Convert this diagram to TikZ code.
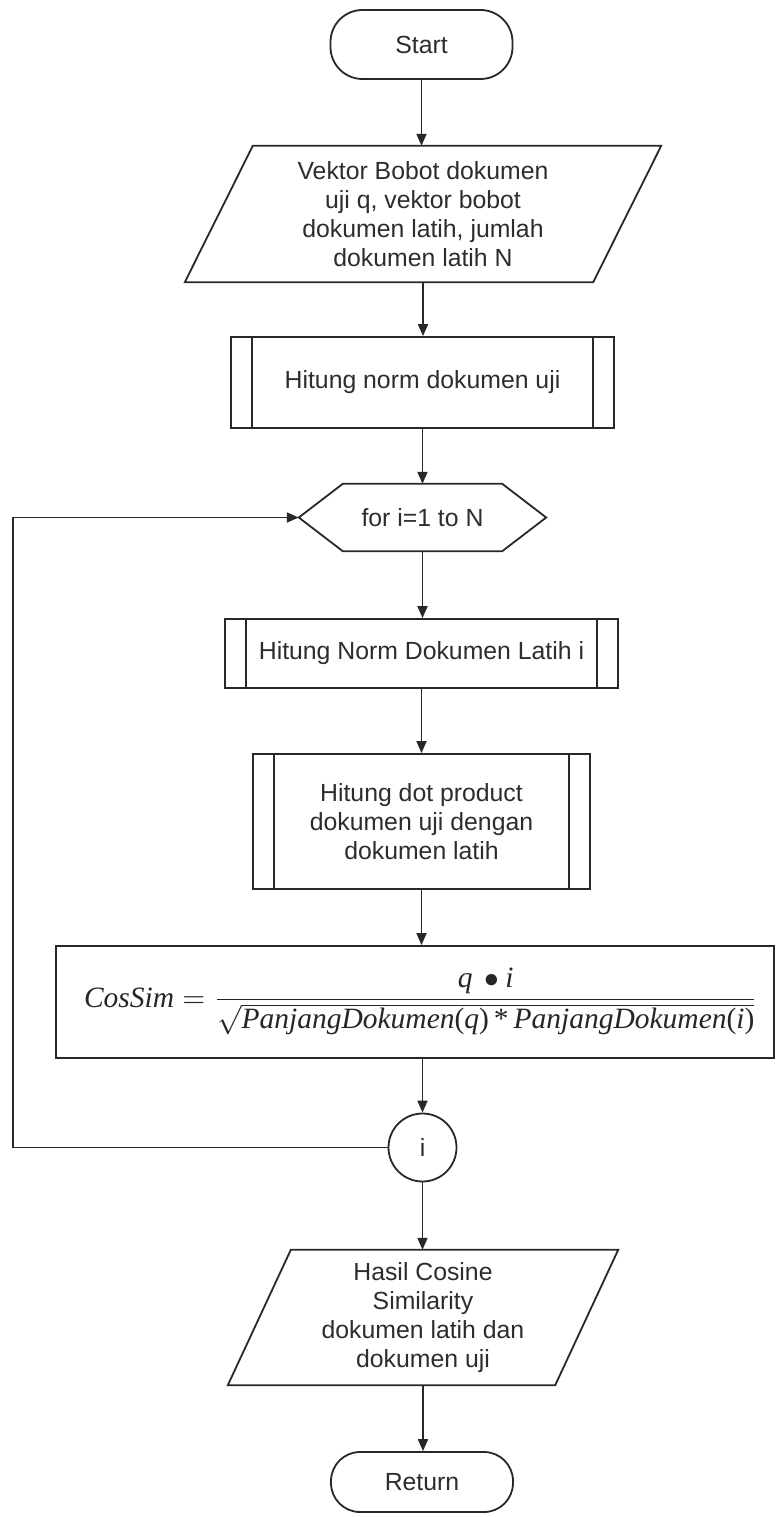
\documentclass[tikz,border=0pt]{standalone}
\usepackage{graphicx}
\usepackage{fontspec}
\setmainfont{Liberation Sans}
\newfontfamily\eqfont{Liberation Serif}
\usetikzlibrary{arrows.meta}

\definecolor{ink}{RGB}{40,40,40}
\definecolor{txt}{RGB}{45,45,45}

% formula helpers: italic variables and upright symbols in a Times-like face
\newcommand\fv[1]{\mbox{\eqfont\itshape #1}}
\newcommand\fu[1]{\mbox{\eqfont #1}}

\tikzset{
  every node/.style={text=txt, font=\fontsize{24.8}{29}\selectfont, align=center, inner sep=0pt},
  outline/.style={draw=ink, line width=1.8pt},
  flow/.style={draw=ink, line width=1.8pt, -{Triangle[length=12pt,width=10pt]}},
  terminal/.style={outline, rectangle, minimum width=182pt, rounded corners=32pt},
  procbox/.style={outline, rectangle},
  iobox/.style={rectangle, draw=none},
  loopbox/.style={rectangle, draw=none},
  connector/.style={outline, circle, minimum size=68pt},
}

\begin{document}
\begin{tikzpicture}[x=1pt, y=-1pt]
  \fill[white] (0,0) rectangle (776,1517);
  \useasboundingbox (0,0) rectangle (776,1517);

  % terminals
  \node[terminal, minimum height=69pt] (start) at (421.5,44.5) {Start};
  \node[terminal, minimum height=60pt, rounded corners=29pt] (ret) at (422,1482) {Return};

  % input parallelogram
  \node[iobox, minimum width=408pt, minimum height=136pt] (in) at (423,214)
    {Vektor Bobot dokumen\\uji q, vektor bobot\\dokumen latih, jumlah\\dokumen latih N};
  \draw[outline] ([xshift=34pt]in.north west) -- ([xshift=34pt]in.north east)
    -- ([xshift=-34pt]in.south east) -- ([xshift=-34pt]in.south west) -- cycle;

  % predefined processes
  \node[procbox, minimum width=383pt, minimum height=91pt] (normq) at (422.5,382.5)
    {Hitung norm dokumen uji};
  \node[procbox, minimum width=393pt, minimum height=69pt] (normi) at (421.5,653.5)
    {Hitung Norm Dokumen Latih i};
  \node[procbox, minimum width=337pt, minimum height=135pt] (dot) at (421.5,821.5)
    {Hitung dot product\\dokumen uji dengan\\dokumen latih};
  \foreach \n in {normq,normi,dot}{
    \draw[outline] ([xshift=22pt]\n.north west) -- ([xshift=22pt]\n.south west);
    \draw[outline] ([xshift=-22pt]\n.north east) -- ([xshift=-22pt]\n.south east);
  }

  % loop header
  \node[loopbox, minimum width=247pt, minimum height=67pt] (loop) at (422.5,517.5)
    {for i=1 to N};
  \draw[outline] (loop.west) -- ([xshift=44pt]loop.north west) -- ([xshift=-44pt]loop.north east)
    -- (loop.east) -- ([xshift=-44pt]loop.south east) -- ([xshift=44pt]loop.south west) -- cycle;

  % cosine similarity formula, set at 10pt and enlarged as a whole
  \node[procbox, minimum width=718pt, minimum height=112pt] (cos) at (415,1002) {};
  \node[text=black!85] (eq) at (421,1001)
    {\scalebox{2.95}{\fontsize{10}{12}\selectfont
     $\displaystyle \fv{CosSim} = \frac{\fv{q}\,\bullet\fv{i}}%
      {\sqrt{\fv{PanjangDokumen}\fu{(}\fv{q}\fu{)}\fu{\,*\,}\fv{PanjangDokumen}\fu{(}\fv{i}\fu{)}}}$}};

  % loop end connector
  \node[connector] (endi) at (422.5,1147.5) {i};

  % output parallelogram
  \node[iobox, minimum width=327pt, minimum height=135pt] (out) at (423,1317.5)
    {Hasil Cosine\\Similarity\\dokumen latih dan\\dokumen uji};
  \draw[outline] ([xshift=31.5pt]out.north west) -- ([xshift=31.5pt]out.north east)
    -- ([xshift=-31.5pt]out.south east) -- ([xshift=-31.5pt]out.south west) -- cycle;

  % main flow
  \draw[flow] (start.south) -- (start.south |- in.north);
  \draw[flow] (in.south) -- (in.south |- normq.north);
  \draw[flow] (normq.south) -- (normq.south |- loop.north);
  \draw[flow] (loop.south) -- (loop.south |- normi.north);
  \draw[flow] (normi.south) -- (normi.south |- dot.north);
  \draw[flow] (dot.south) -- (dot.south |- cos.north);
  \draw[flow] (cos.south -| endi.north) -- (endi.north);
  \draw[flow] (endi.south) -- (endi.south |- out.north);
  \draw[flow] (out.south) -- (out.south |- ret.north);

  % back edge to the loop header
  \coordinate (rail) at (13,0);
  \draw[flow] (endi.west) -- (endi.west -| rail) |- (loop.west);
\end{tikzpicture}
\end{document}
